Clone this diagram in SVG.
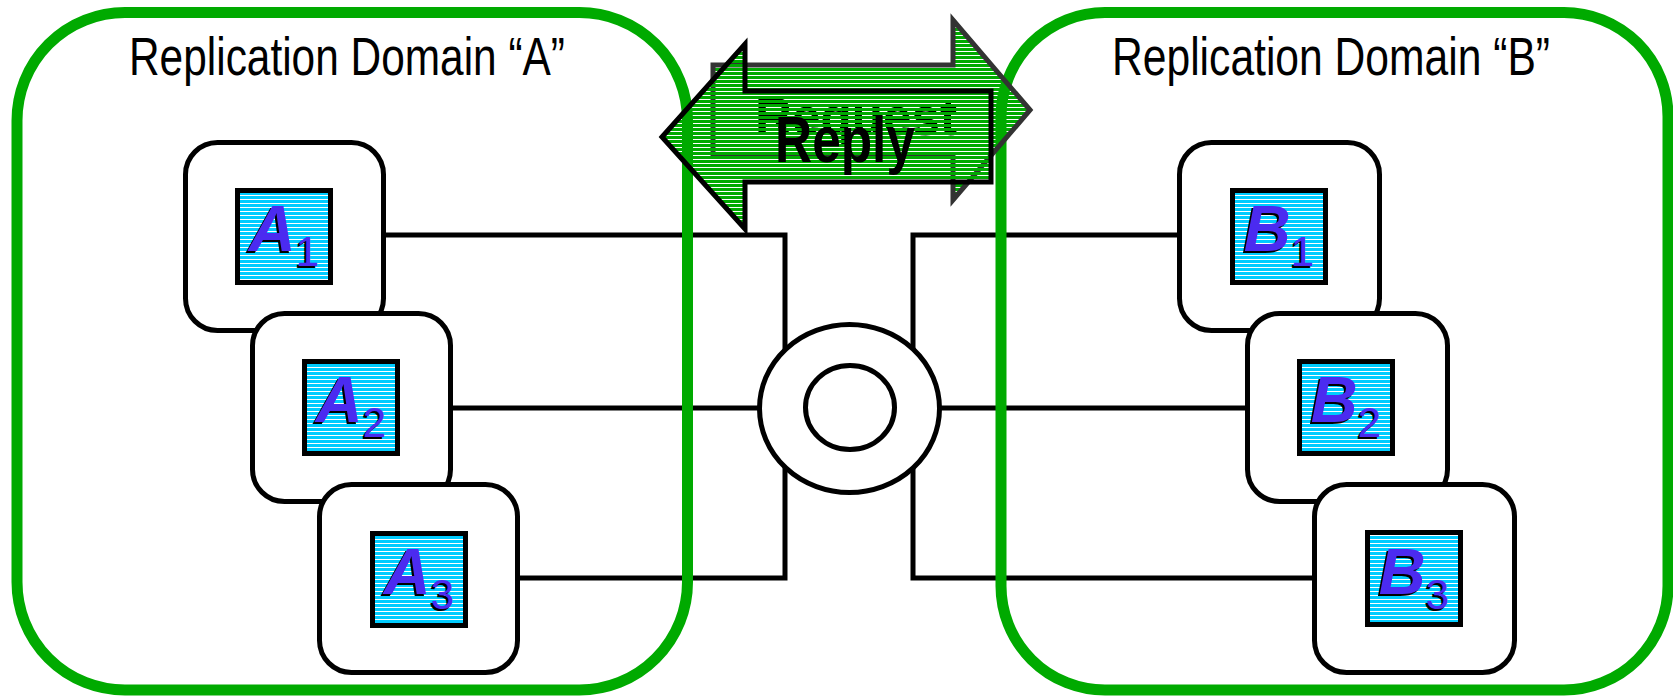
<svg xmlns="http://www.w3.org/2000/svg" width="1673" height="696" viewBox="0 0 1673 696">
  <style>
    .domain { fill: none; stroke: #00aa00; stroke-width: 11; }
    .title { font-family: "Liberation Sans Narrow", "Liberation Sans", Arial, sans-serif; font-size: 53px; fill: #000; }
    .wire { fill: none; stroke: #000; stroke-width: 5; stroke-linejoin: miter; }
    .node { fill: #fff; stroke: #000; stroke-width: 5; }
    .chip { fill: url(#hatchCyan); stroke: #000; stroke-width: 5; }
    .lbl { font-family: "Liberation Sans", Arial, sans-serif; font-weight: bold; font-style: italic; font-size: 65px; text-anchor: middle; }
    .lbl .sub { font-size: 42px; font-style: normal; font-weight: normal; }
    .ring { fill: #fff; stroke: #000; stroke-width: 5; }
    .arrowText { font-family: "Liberation Sans Narrow", "Liberation Sans", Arial, sans-serif; font-weight: bold; fill: #000; text-anchor: middle; }
  </style>
  <defs>
    <!-- green stripes with see-through gaps -->
    <pattern id="hatchGreen" patternUnits="userSpaceOnUse" width="8" height="4">
      <rect width="8" height="3" fill="#00aa00"/>
    </pattern>
    <!-- cyan chip fill with thin white lines -->
    <pattern id="hatchCyan" patternUnits="userSpaceOnUse" width="8" height="4">
      <rect width="8" height="4" fill="#ffffff"/>
      <rect width="8" height="3" fill="#00ccff"/>
    </pattern>
  </defs>

  <rect width="1673" height="696" fill="#ffffff"/>

  <!-- connectors -->
  <g id="connectors">
    <path class="wire" d="M 380 235 H 785 V 408"/>
    <path class="wire" d="M 450 408 H 850"/>
    <path class="wire" d="M 519 578 H 785 V 408"/>
    <path class="wire" d="M 1180 235 H 913 V 408"/>
    <path class="wire" d="M 1248 408 H 850"/>
    <path class="wire" d="M 1315 578 H 913 V 408"/>
  </g>

  <!-- central hub -->
  <g id="hub">
    <ellipse class="ring" cx="849.5" cy="408.5" rx="90" ry="84"/>
    <ellipse class="ring" cx="850" cy="407.5" rx="44.5" ry="42"/>
  </g>

  <!-- domain A replicas -->
  <g id="node-A1">
    <rect class="node" x="185.5" y="142.5" width="198" height="188" rx="32"/>
    <rect class="chip" x="237.5" y="190.5" width="93" height="92"/>
    <text class="lbl" x="282" y="253" fill="#000"><tspan>A</tspan><tspan class="sub" dy="15">1</tspan></text>
    <text class="lbl" x="284" y="251" fill="#4b2bf0"><tspan>A</tspan><tspan class="sub" dy="15">1</tspan></text>
  </g>
  <g id="node-A2">
    <rect class="node" x="252.5" y="313.5" width="198" height="188" rx="32"/>
    <rect class="chip" x="304.5" y="361.5" width="93" height="92"/>
    <text class="lbl" x="349" y="424" fill="#000"><tspan>A</tspan><tspan class="sub" dy="15">2</tspan></text>
    <text class="lbl" x="351" y="422" fill="#4b2bf0"><tspan>A</tspan><tspan class="sub" dy="15">2</tspan></text>
  </g>
  <g id="node-A3">
    <rect class="node" x="319.5" y="484.5" width="198" height="188" rx="32"/>
    <rect class="chip" x="372.5" y="533.5" width="93" height="92"/>
    <text class="lbl" x="417" y="596" fill="#000"><tspan>A</tspan><tspan class="sub" dy="15">3</tspan></text>
    <text class="lbl" x="419" y="594" fill="#4b2bf0"><tspan>A</tspan><tspan class="sub" dy="15">3</tspan></text>
  </g>

  <!-- domain B replicas -->
  <g id="node-B1">
    <rect class="node" x="1179.5" y="142.5" width="200" height="188" rx="32"/>
    <rect class="chip" x="1232.5" y="190.5" width="93" height="92"/>
    <text class="lbl" x="1277" y="253" fill="#000"><tspan>B</tspan><tspan class="sub" dy="15">1</tspan></text>
    <text class="lbl" x="1279" y="251" fill="#4b2bf0"><tspan>B</tspan><tspan class="sub" dy="15">1</tspan></text>
  </g>
  <g id="node-B2">
    <rect class="node" x="1247.5" y="313.5" width="200" height="188" rx="32"/>
    <rect class="chip" x="1299.5" y="361.5" width="93" height="92"/>
    <text class="lbl" x="1344" y="424" fill="#000"><tspan>B</tspan><tspan class="sub" dy="15">2</tspan></text>
    <text class="lbl" x="1346" y="422" fill="#4b2bf0"><tspan>B</tspan><tspan class="sub" dy="15">2</tspan></text>
  </g>
  <g id="node-B3">
    <rect class="node" x="1314.5" y="484.5" width="200" height="188" rx="32"/>
    <rect class="chip" x="1367.5" y="532.5" width="93" height="92"/>
    <text class="lbl" x="1412" y="596" fill="#000"><tspan>B</tspan><tspan class="sub" dy="15">3</tspan></text>
    <text class="lbl" x="1414" y="594" fill="#4b2bf0"><tspan>B</tspan><tspan class="sub" dy="15">3</tspan></text>
  </g>

  <!-- replication domains -->
  <g id="domain-A">
    <rect class="domain" x="17" y="12.5" width="670.5" height="677.5" rx="108"/>
    <text class="title" x="129" y="75" textLength="436" lengthAdjust="spacingAndGlyphs">Replication Domain “A”</text>
  </g>
  <g id="domain-B">
    <rect class="domain" x="1001" y="12.5" width="667" height="677.5" rx="104"/>
    <text class="title" x="1112" y="75" textLength="438" lengthAdjust="spacingAndGlyphs">Replication Domain “B”</text>
  </g>

  <!-- request / reply exchange -->
  <g id="request">
    <polygon points="1030,110 953,20 953,65 713,65 713,155 953,155 953,200" fill="url(#hatchGreen)" stroke="#333333" stroke-width="5" stroke-linejoin="miter"/>
    <text class="arrowText" x="856" y="135" font-size="53" textLength="202" lengthAdjust="spacingAndGlyphs">Request</text>
  </g>
  <g id="reply">
    <polygon points="662,137 745,44 745,91 991,91 991,182 745,182 745,229" fill="url(#hatchGreen)" stroke="#000000" stroke-width="5" stroke-linejoin="miter"/>
    <text class="arrowText" x="845" y="162" font-size="65" textLength="140" lengthAdjust="spacingAndGlyphs">Reply</text>
  </g>
</svg>
